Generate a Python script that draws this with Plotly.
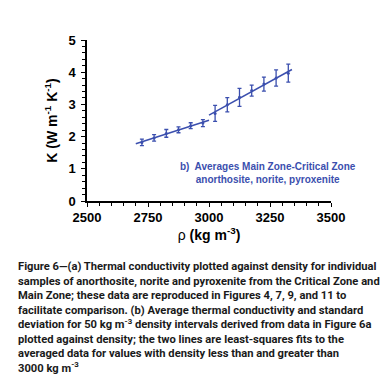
import numpy as np
import plotly.graph_objects as go

# Data
density = [2725, 2775, 2825, 2875, 2925, 2975, 3025, 3075, 3125, 3175, 3225, 3275, 3325]
conductivity = [1.82, 1.96, 2.10, 2.21, 2.34, 2.42, 2.72, 2.99, 3.22, 3.43, 3.63, 3.82, 3.97]
std_dev = [0.10, 0.10, 0.12, 0.09, 0.09, 0.11, 0.25, 0.22, 0.28, 0.17, 0.22, 0.25, 0.28]
split_density = 3000
low_fit_range = [2700, 3000]
high_fit_range = [3000, 3340]

x_ticks = [2500, 2750, 3000, 3250, 3500]
y_ticks = [0, 1, 2, 3, 4, 5]

BLUE = "#3b4fae"
FONT = "Liberation Sans, Arial, sans-serif"
CAPTION_FONT = "Roboto, Liberation Sans, Arial, sans-serif"

fig = go.Figure()

x = np.array(density, dtype=float)
y = np.array(conductivity, dtype=float)

# least-squares fits below and above split density
for mask, rng in [(x < split_density, low_fit_range), (x > split_density, high_fit_range)]:
    coef = np.polyfit(x[mask], y[mask], 1)
    xs = np.array(rng, dtype=float)
    fig.add_trace(go.Scatter(x=xs, y=np.polyval(coef, xs), mode="lines",
                             line=dict(color=BLUE, width=1.5), showlegend=False,
                             hoverinfo="skip"))

fig.add_trace(go.Scatter(
    x=density, y=conductivity, mode="markers",
    marker=dict(color=BLUE, size=3),
    error_y=dict(type="data", array=std_dev, visible=True, color=BLUE,
                 thickness=1.3, width=2),
    showlegend=False))

fig.update_layout(
    width=391, height=391,
    margin=dict(l=79, r=68, t=32, b=198),
    paper_bgcolor="white", plot_bgcolor="white",
    font=dict(family=FONT, color="black"),
    xaxis=dict(range=[2500, 3500], tickvals=x_ticks, ticktext=[str(v) for v in x_ticks],
               showgrid=False, zeroline=False, showline=True, linecolor="black", linewidth=1.5,
               ticks="outside", ticklen=4, tickwidth=1.3, tickcolor="black",
               minor=dict(dtick=50, ticks="outside", ticklen=3, tickwidth=1.2, tickcolor="black"),
               tickfont=dict(family=FONT, size=13, color="black", weight="bold"),
               title=dict(text="ρ <b>(kg m<sup>-3</sup>)</b>",
                          font=dict(family=FONT, size=14, color="black"), standoff=2)),
    yaxis=dict(range=[0, 5], tickvals=y_ticks, ticktext=[str(v) for v in y_ticks],
               showgrid=False, zeroline=False, showline=True, linecolor="black", linewidth=1.5,
               ticks="outside", ticklen=4, tickwidth=1.3, tickcolor="black",
               ticklabelstandoff=3,
               minor=dict(dtick=0.2, ticks="outside", ticklen=3, tickwidth=1.2, tickcolor="black"),
               tickfont=dict(family=FONT, size=13, color="black", weight="bold"),
               title=dict(text="<b>K (W m<sup>-1</sup> K<sup>-1</sup>)</b>",
                          font=dict(family=FONT, size=14, color="black"), standoff=8)),
)

fig.add_annotation(
    x=3242, y=0.885, xref="x", yref="y",
    text="<b>b)  Averages Main Zone-Critical Zone<br>anorthosite, norite, pyroxenite</b>",
    showarrow=False, align="center", font=dict(family=FONT, size=10, color=BLUE))

caption = ("<b>Figure 6—(a) Thermal conductivity plotted against density for individual<br>"
           "samples of anorthosite, norite and pyroxenite from the Critical Zone and<br>"
           "Main Zone; these data are reproduced in Figures 4, 7, 9, and 11 to<br>"
           "facilitate comparison. (b) Average thermal conductivity and standard<br>"
           "deviation for 50 kg m<sup>-3</sup> density intervals derived from data in Figure 6a<br>"
           "plotted against density; the two lines are least-squares fits to the<br>"
           "averaged data for values with density less than and greater than<br>"
           "3000 kg m<sup>-3</sup></b>")
fig.add_annotation(
    x=(8 - 79) / 244, y=(193 - 250) / 161, xref="paper", yref="paper",
    xanchor="left", yanchor="top", align="left", showarrow=False,
    text=caption, font=dict(family=CAPTION_FONT, size=11.2, color="#1a1a1a"))

fig.write_html("out.html")
